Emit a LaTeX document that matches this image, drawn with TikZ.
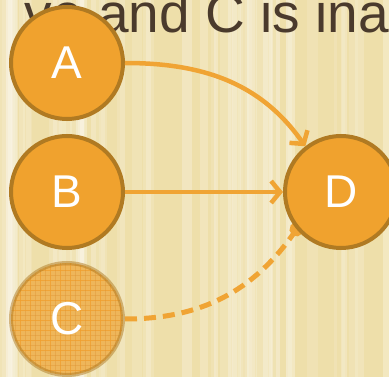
\documentclass[tikz,border=0pt]{standalone}
\usepackage{fontspec}
\setmainfont{Liberation Sans}
\usetikzlibrary{arrows.meta}
\pgfdeclarelayer{bg}
\pgfdeclarelayer{edges}
\pgfsetlayers{bg,edges,main}
\definecolor{nodeor}{HTML}{F0A22E}
\definecolor{nodebr}{HTML}{B07A22}
\definecolor{edgeor}{HTML}{F0A434}
\definecolor{txtbr}{HTML}{4A3A2C}
\definecolor{bgy}{HTML}{ECDA9C}
\definecolor{cfill}{HTML}{EEB65A}
\definecolor{cgrid}{HTML}{F0A030}
\begin{document}
\begin{tikzpicture}[x=1pt,y=-1pt,
  state/.style={circle, minimum size=112pt, inner sep=0pt, fill=nodeor, draw=nodebr, line width=4pt, text=white, font=\fontsize{46}{46}\selectfont},
  link/.style={draw=edgeor, line width=4.5pt, -{Straight Barb[length=9pt,width=22pt]}},
]
\useasboundingbox (0,0) rectangle (389,377);
\begin{pgfonlayer}{bg}
  \fill[bgy] (0,0) rectangle (389,377);
  \pgfmathsetseed{11}
  \foreach \i in {0,...,55} {
    \pgfmathsetmacro\xx{rnd*389}
    \pgfmathsetmacro\ww{3+rnd*9}
    \pgfmathsetmacro\oo{0.08+0.2*rnd}
    \fill[white,opacity=\oo] (\xx,0) rectangle ++(\ww,377);
  }
  \fill[white,opacity=0.15] (0,0) rectangle (389,377);
  \node[anchor=base east, text=txtbr, font=\fontsize{55}{55}\selectfont, inner sep=0pt] (title) at (389,33) {ve and C is ina};
  \fill[cfill] (67,319) circle (56);
  \begin{scope}
    \clip (67,319) circle (56);
    \foreach \k in {0,...,14} {
      \draw[cgrid, line width=0.7pt, opacity=0.8] (\k*10,250) -- (\k*10,380);
      \draw[cgrid, line width=0.7pt, opacity=0.8] (0,250+\k*10) -- (140,250+\k*10);
      \draw[cgrid!60!brown, line width=0.3pt, opacity=0.4] (\k*10+5,250) -- (\k*10+5,380);
      \draw[cgrid!60!brown, line width=0.3pt, opacity=0.4] (0,255+\k*10) -- (140,255+\k*10);
    }
  \end{scope}
\end{pgfonlayer}
\node[state] (A) at (67,63) {A};
\node[state] (B) at (67,192) {B};
\node[state] (D) at (341,192) {D};
\node[state, fill=none, draw=nodebr, draw opacity=0.5] (C) at (67,319) {C};
\begin{pgfonlayer}{edges}
  \draw[draw=edgeor, line width=5pt, dash pattern=on 12pt off 7pt, -{Circle[length=14pt]}, shorten >=-7pt] (C.east) to[out=0, in=235] (D.220);
\end{pgfonlayer}
\draw[link] (A.east) to[out=0, in=125] (D.128);
\draw[link] (B) -- (D);
\end{tikzpicture}
\end{document}
